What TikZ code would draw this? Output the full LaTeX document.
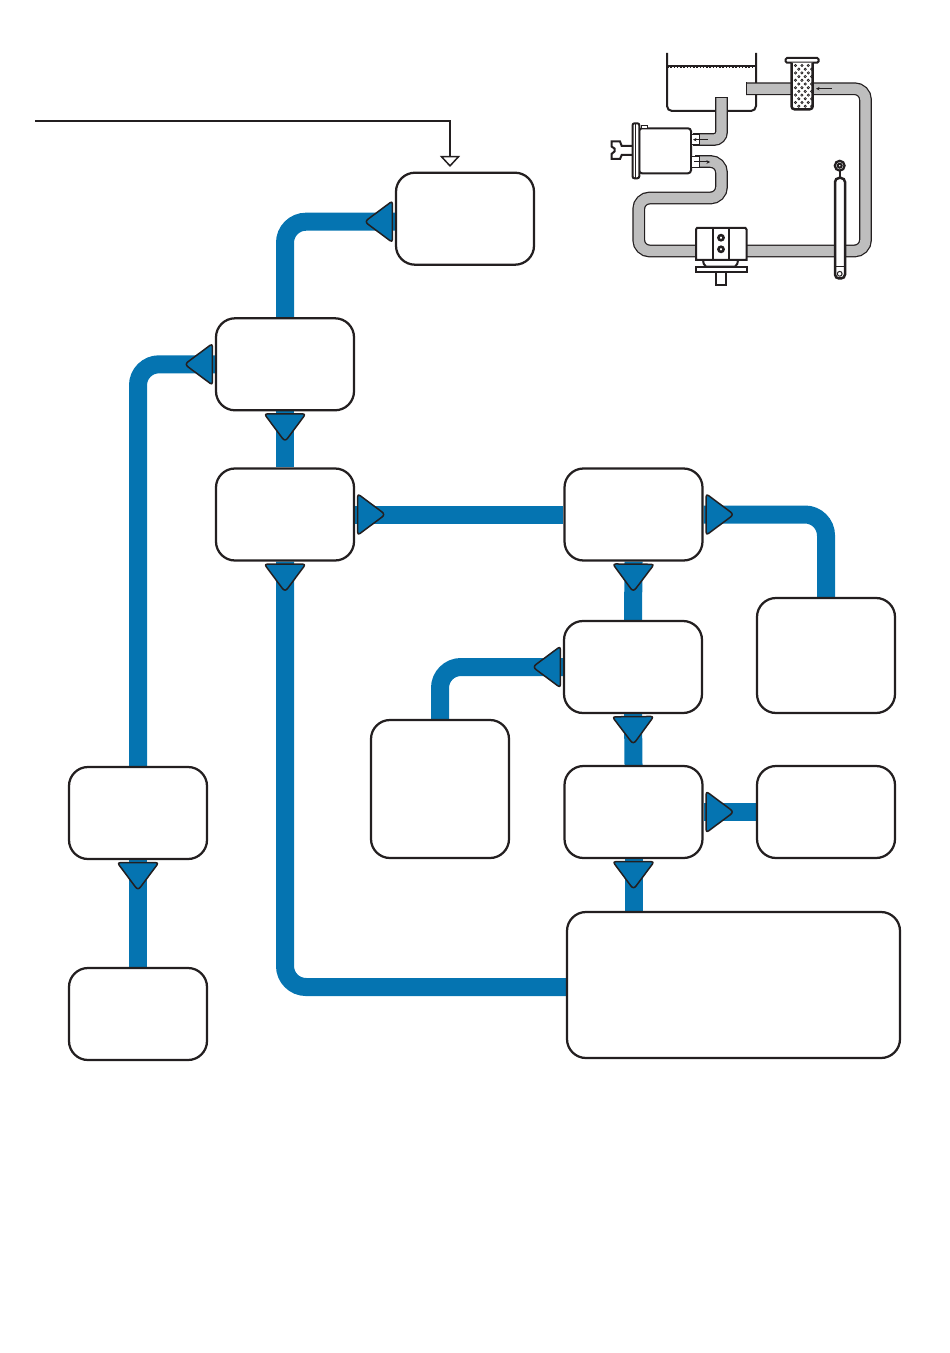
\documentclass[tikz,border=0pt]{standalone}
\usetikzlibrary{arrows.meta,backgrounds}
\definecolor{flowBlue}{RGB}{5,116,177}
\definecolor{flowInk}{RGB}{35,31,32}
\definecolor{hoseGray}{RGB}{190,190,190}
% Rounded triangle whose base sits on the box and whose point runs along the pipe
\pgfdeclarearrow{
  name=FlowTip,
  cache=false,
  setup code={\pgfarrowssettipend{0pt}\pgfarrowssetlineend{0pt}\pgfarrowssetbackend{-6mm}},
  drawing code={
    \pgfsetstrokecolor{flowInk}\pgfsetfillcolor{flowBlue}
    \pgfsetlinewidth{0.3mm}\pgfsetroundjoin
    \pgfpathmoveto{\pgfpoint{-0.5mm}{0mm}}
    \pgfpathlineto{\pgfpoint{-0.5mm}{3.54mm}}
    \pgfpathquadraticcurveto{\pgfpoint{-0.5mm}{4.14mm}}{\pgfpoint{-0.981mm}{3.782mm}}
    \pgfpathlineto{\pgfpoint{-5.338mm}{0.537mm}}
    \pgfpathquadraticcurveto{\pgfpoint{-6.06mm}{0mm}}{\pgfpoint{-5.338mm}{-0.537mm}}
    \pgfpathlineto{\pgfpoint{-0.981mm}{-3.782mm}}
    \pgfpathquadraticcurveto{\pgfpoint{-0.5mm}{-4.14mm}}{\pgfpoint{-0.5mm}{-3.54mm}}
    \pgfpathclose
    \pgfusepathqfillstroke
  }
}
\tikzset{
    stage/.style={rectangle, rounded corners=3.8mm, draw=flowInk, line width=0.45mm,
                  fill=white, minimum width=2.76cm, minimum height=1.84cm, inner sep=0pt},
    pipe/.style={line width=3.6mm, draw=flowBlue, rounded corners=4.2mm, >={FlowTip}},
    feed/.style={line width=0.4mm, draw=flowInk,
                 -{Triangle[open, length=2.2mm, width=4mm, line width=0.3mm]}},
    hose/.style={double=hoseGray, double distance=2.05mm, line width=0.25mm,
                 draw=flowInk, rounded corners=2.2mm},
    ink/.style={draw=flowInk, line width=0.4mm},
    wall/.style={draw=flowInk, line width=0.5mm},
    thinink/.style={draw=flowInk, line width=0.2mm},
    flowmark/.style={draw=flowInk, line width=0.2mm, -{Stealth[length=0.7mm, width=0.7mm]}}
}
\begin{document}
\begin{tikzpicture}[x=0.2mm, y=-0.2mm]
  \useasboundingbox (0,0) rectangle (950,1353);

  % Stages
  \node[stage] (tank) at (465,218.7) {};
  \node[stage] (split) at (285,364.3) {};
  \node[stage] (pump) at (285,514.5) {};
  \node[stage] (valve) at (633.5,514.5) {};
  \node[stage, minimum height=2.3cm] (relief) at (826,655.5) {};
  \node[stage] (spool) at (633,667) {};
  \node[stage, minimum height=2.76cm] (torsion) at (440,789) {};
  \node[stage] (rack) at (633.5,812) {};
  \node[stage] (seal) at (826,812) {};
  \node[stage, minimum width=6.66cm, minimum height=2.92cm] (cooler) at (733.5,985) {};
  \node[stage] (belt) at (138,813) {};
  \node[stage] (engine) at (138,1014) {};

  % Feed line into the top stage
  \coordinate (feedstart) at (35,121);
  \coordinate (feedend) at (450,167);
  \draw[feed] (feedstart) -| (feedend);

  % Blue connectors
  \begin{scope}[on background layer]
    \draw[pipe, <-] ([yshift=-0.6mm]tank.west) -| (split.north);
    \draw[pipe, <-] (split.west) -| (belt.north);
    \draw[pipe, <-] (split.south) -- (pump.north);
    \draw[pipe, <-] (pump.east) -- (valve.west);
    \draw[pipe, <-] (pump.south) |- ([yshift=-0.4mm]cooler.west);
    \draw[pipe, <-] (valve.east) -| (relief.north);
    \draw[pipe, <-] (valve.south) -- (spool.north);
    \draw[pipe, <-] (spool.west) -| (torsion.north);
    \draw[pipe, <-] (spool.south) -- (rack.north);
    \draw[pipe, <-] (rack.east) -- (seal.west);
    \draw[pipe, <-] (rack.south) -- (rack.south |- cooler.north);
    \draw[pipe, <-] (belt.south) -- (engine.north);
  \end{scope}

  % Reservoir
  \draw[ink, rounded corners=1mm] (667,53) -- (667,111) -- (756,111) -- (756,53);
  \draw[ink] (667,66) -- (756,66);
  \draw[flowInk, line width=0.3mm, densely dotted] (667,67) -- (756,67);

  % Hoses
  \draw[hose, rounded corners=1.5mm] (721.5,98) -- (721.5,139.5) -- (693,139.5);
  \draw[thinink] (715,98) -- (728,98);
  \draw[hose] (695,161.5) -- (721.5,161.5) -- (721.5,198) -- (638.7,198)
    -- (638.7,251) -- (865.5,251) -- (865.5,88.7) -- (746,88.7);
  \draw[thinink] (746,82.3) -- (746,95.1);

  % Pump canister
  \draw[ink, fill=white, rounded corners=0.6mm] (639,128.3) -- (691,128.3) -- (691,173.3) -- (639,173.3) -- cycle;
  \draw[ink, fill=white, rounded corners=0.4mm] (632.5,178.3) -- (632.5,123.3) -- (639.3,123.3) -- (639.3,178.3) -- cycle;
  \draw[thinink] (635.5,124) -- (635.5,178);
  \draw[thinink, fill=white] (641,128.3) rectangle (647.7,125.7);
  \draw[ink] (632,146) -- (621.7,146) -- (620,141.5) -- (611.5,141.5) -- (611.5,146.5) -- (614.5,148.5)
    -- (614.5,151.5) -- (611.5,154) -- (611.5,159) -- (620,159) -- (621.7,155) -- (632,155);
  \draw[thinink, fill=white] (691.5,134.3) -- (699,134.3) -- (699,145) -- (691.5,145);
  \draw[thinink, fill=white] (691.5,156.7) -- (699.5,156.7) -- (699.5,167.3) -- (691.5,167.3);
  \draw[flowmark] (708,139.7) -- (693,139.7);
  \draw[flowmark] (694,162) -- (710,162);

  % Steering rack
  \draw[ink, fill=white] (703,260) to[bend right=25] (706,266.7) -- (735,266.7) to[bend right=25] (738,260);
  \draw[ink, fill=white] (696,260) -- (696,229.5) -- (697,228) -- (745.5,228) -- (746.5,229.5) -- (746.5,260) -- cycle;
  \draw[ink] (713,228.5) -- (713,259.5) (729,228.5) -- (729,259.5);
  \draw[ink, line width=0.5mm, fill=white] (721,237.7) circle (2.6);
  \draw[ink, line width=0.5mm, fill=white] (721,249.3) circle (2.6);
  \draw[ink, fill=white] (696,267) rectangle (746.5,272.3);
  \draw[ink, fill=white] (716.2,272.3) rectangle (725.7,285);

  % Strainer
  \draw[ink, fill=white, rounded corners=0.3mm] (785.5,58) rectangle (818.7,62.7);
  \draw[wall, fill=white, rounded corners=0.6mm] (791.5,62.7) -- (791.5,109.3) -- (812.7,109.3) -- (812.7,62.7);
  \foreach \row in {0,...,11} {
    \pgfmathsetmacro{\rowy}{65.5+\row*3.7}
    \pgfmathsetmacro{\rowx}{795.5+mod(\row,2)*3.3}
    \foreach \col in {0,1,2} {
      \draw[flowInk, line width=0.14mm] (\rowx+\col*6.4,\rowy) circle (1.15);
    }
  }
  \draw[flowmark] (832,88.7) -- (816,88.7);

  % Damper
  \draw[ink] (839.7,170) -- (839.7,177.7);
  \draw[ink, line width=0.45mm, fill=white] (839.7,165.7) circle (4.9);
  \draw[ink, fill=white] (839.7,165.7) circle (2);
  \draw[wall, fill=white, rounded corners=0.8mm] (835,178) -- (845,178) -- (845,278.5) -- (835,278.5) -- cycle;
  \draw[thinink] (835,267) -- (845,267);
  \draw[thinink] (839.7,273.8) circle (2.4);
\end{tikzpicture}
\end{document}
